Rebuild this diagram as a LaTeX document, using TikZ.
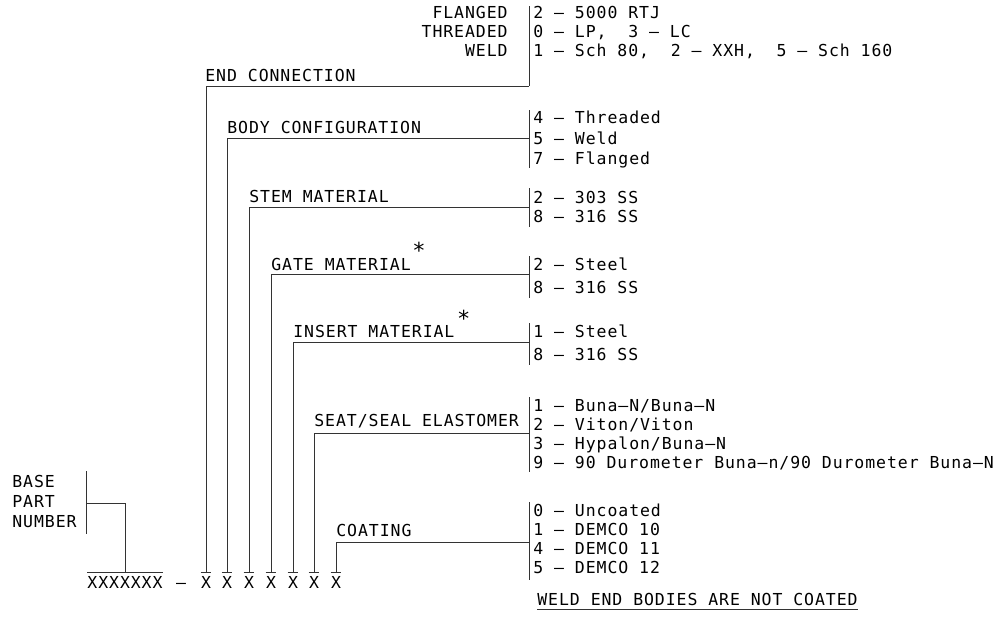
\documentclass[tikz,border=0pt]{standalone}
\usepackage{fontspec}
\setmainfont{DejaVu Sans Mono}[LetterSpace=5.6]
\newfontfamily\starfont{DejaVu Sans Mono}
\newcommand{\cadfont}{\fontsize{16.5}{19}\selectfont}
\begin{document}
\begin{tikzpicture}[x=1pt,y=-1pt,
  line width=0.8pt,
  lbl/.style={inner sep=0pt, anchor=base west, font=\cadfont},
  rlbl/.style={inner sep=0pt, anchor=base east, font=\cadfont},
  xlbl/.style={inner sep=0pt, anchor=base, font=\cadfont},
  star/.style={inner sep=0pt, anchor=center, font=\starfont\fontsize{22}{22}\selectfont},
  leader/.style={line width=0.8pt, draw=black!80},
  barline/.style={line width=0.8pt, draw=black!80}]
\useasboundingbox (0,0) rectangle (1006,616);

% ---------- bottom part number row ----------
\node[xlbl] (xb) at (125,588) {XXXXXXX};
\node[xlbl] (dash) at (181,588) {–};
\foreach \i/\xx in {1/206,2/227,3/249,4/271,5/293,6/314,7/336}{
  \node[xlbl] (x\i) at (\xx,588) {X};
  \draw[barline] ([yshift=3pt]x\i.north west) -- ([yshift=3pt]x\i.north east);
}
\draw[barline] ([yshift=3pt]xb.north west) -- ([yshift=3pt]xb.north east);

% ---------- base part number ----------
\node[lbl] (bp1) at (12,487) {BASE};
\node[lbl] (bp2) at (12,507) {PART};
\node[lbl] (bp3) at (12,527) {NUMBER};
\coordinate (bpt) at (86,471);
\coordinate (bpb) at (86,534);
\coordinate (bpm) at (86,503);
\draw[barline] (bpt) -- (bpb);
\draw[leader] (bpm) -| ([yshift=3pt]xb.north);

% ---------- end connection ----------
\node[rlbl] (fl) at (508,18) {FLANGED};
\node[rlbl] (th) at (508,37) {THREADED};
\node[rlbl] (wd) at (508,56) {WELD};
\node[lbl] (e1) at (533,18) {2 – 5000 RTJ};
\node[lbl] (e2) at (533,37) {0 – LP,\ \ 3 – LC};
\node[lbl] (e3) at (533,56) {1 – Sch 80,\ \ 2 – XXH,\ \ 5 – Sch 160};
\node[lbl] (lec) at (205,81) {END CONNECTION};
\coordinate (ect) at (529,6);
\coordinate (ecb) at (529,86);
\draw[barline] (ect) -- (ecb);
\draw[leader] ([yshift=3pt]x1.north) |- (ecb);

% ---------- body configuration ----------
\node[lbl] (lbc) at (227,133) {BODY CONFIGURATION};
\node[lbl] (b1) at (533,123) {4 – Threaded};
\node[lbl] (b2) at (533,144) {5 – Weld};
\node[lbl] (b3) at (533,164) {7 – Flanged};
\coordinate (bct) at (529,110);
\coordinate (bcb) at (529,168);
\coordinate (bcm) at (529,138);
\draw[barline] (bct) -- (bcb);
\draw[leader] ([yshift=3pt]x2.north) |- (bcm);

% ---------- stem material ----------
\node[lbl] (lsm) at (249,202) {STEM MATERIAL};
\node[lbl] (s1) at (533,203) {2 – 303 SS};
\node[lbl] (s2) at (533,222) {8 – 316 SS};
\coordinate (smt) at (529,188);
\coordinate (smb) at (529,227);
\coordinate (smm) at (529,207);
\draw[barline] (smt) -- (smb);
\draw[leader] ([yshift=3pt]x3.north) |- (smm);

% ---------- gate material ----------
\node[lbl] (lgm) at (271,270) {GATE MATERIAL};
\node[star] (gst) at ([xshift=8pt,yshift=14pt]lgm.east) {*};
\node[lbl] (g1) at (533,270) {2 – Steel};
\node[lbl] (g2) at (533,293) {8 – 316 SS};
\coordinate (gmt) at (529,256);
\coordinate (gmb) at (529,298);
\coordinate (gmm) at (529,274);
\draw[barline] (gmt) -- (gmb);
\draw[leader] ([yshift=3pt]x4.north) |- (gmm);

% ---------- insert material ----------
\node[lbl] (lim) at (293,337) {INSERT MATERIAL};
\node[star] (ist) at ([xshift=9pt,yshift=13pt]lim.east) {*};
\node[lbl] (i1) at (533,337) {1 – Steel};
\node[lbl] (i2) at (533,360) {8 – 316 SS};
\coordinate (imt) at (529,323);
\coordinate (imb) at (529,365);
\coordinate (imm) at (529,342);
\draw[barline] (imt) -- (imb);
\draw[leader] ([yshift=3pt]x5.north) |- (imm);

% ---------- seat/seal elastomer ----------
\node[lbl] (lse) at (314,426) {SEAT/SEAL ELASTOMER};
\node[lbl] (se1) at (533,411) {1 – Buna–N/Buna–N};
\node[lbl] (se2) at (533,430) {2 – Viton/Viton};
\node[lbl] (se3) at (533,449) {3 – Hypalon/Buna–N};
\node[lbl] (se4) at (533,468) {9 – 90 Durometer Buna–n/90 Durometer Buna–N};
\coordinate (set) at (529,397);
\coordinate (seb) at (529,472);
\coordinate (sem) at (529,433);
\draw[barline] (set) -- (seb);
\draw[leader] ([yshift=3pt]x6.north) |- (sem);

% ---------- coating ----------
\node[lbl] (lco) at (336,536) {COATING};
\node[lbl] (c1) at (533,516) {0 – Uncoated};
\node[lbl] (c2) at (533,535) {1 – DEMCO 10};
\node[lbl] (c3) at (533,554) {4 – DEMCO 11};
\node[lbl] (c4) at (533,573) {5 – DEMCO 12};
\coordinate (cot) at (529,502);
\coordinate (cob) at (529,580);
\coordinate (com) at (529,542);
\draw[barline] (cot) -- (cob);
\draw[leader] ([yshift=3pt]x7.north) |- (com);

% ---------- note ----------
\node[lbl] (note) at (537,605) {WELD END BODIES ARE NOT COATED};
\draw[barline] ([yshift=-4pt]note.south west) -- ([yshift=-4pt]note.south east);
\end{tikzpicture}
\end{document}
